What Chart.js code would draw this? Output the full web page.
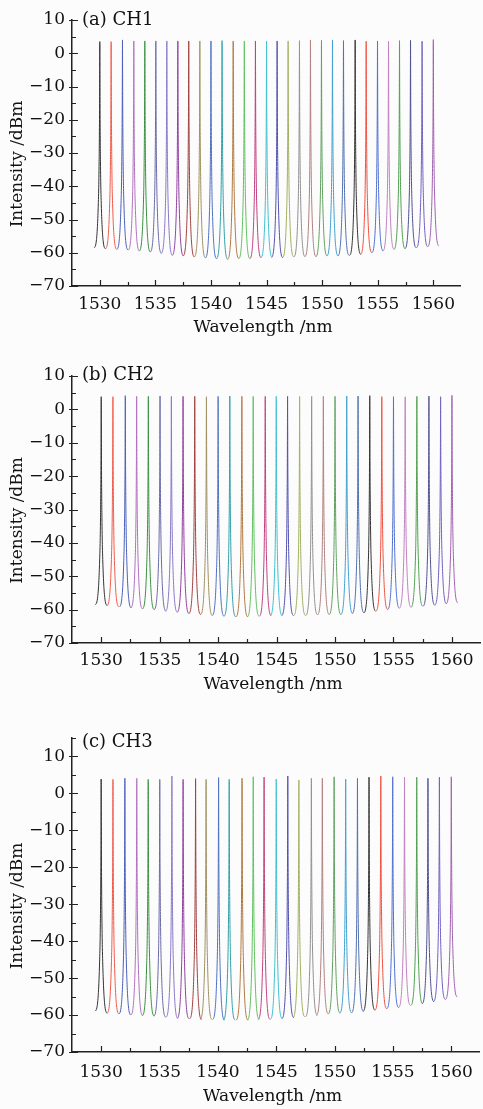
<!DOCTYPE html>
<html>
<head>
<meta charset="utf-8">
<script src="https://cdn.jsdelivr.net/npm/chart.js@4.4.0/dist/chart.umd.min.js"></script>
<style>
  body { margin: 0; background: #fcfcfc; width: 483px; height: 1109px; overflow: hidden; position: relative; }
  canvas { position: absolute; left: 0; }
</style>
</head>
<body>
<canvas id="chA" width="483" height="346" style="top:0px"></canvas>
<canvas id="chB" width="483" height="350" style="top:350px"></canvas>
<canvas id="chC" width="483" height="404" style="top:705px"></canvas>
<script>
// Peak wavelengths (nm)
const peaksA = [1530.0, 1531.02, 1532.04, 1533.06, 1534.05, 1535.04, 1536.03, 1537.02, 1538.0, 1539.0, 1540.0,
  1541.0, 1542.0, 1543.0, 1544.0, 1545.0, 1545.95, 1546.94, 1547.96, 1548.95, 1549.94, 1550.93, 1551.92,
  1552.97, 1553.96, 1554.98, 1555.97, 1556.96, 1557.95, 1558.99, 1560.0];
const peaksB = [1530.0, 1531.0, 1532.06, 1533.03, 1534.03, 1535.03, 1536.0, 1537.0, 1538.0, 1539.0, 1540.0,
  1541.0, 1542.03, 1543.0, 1544.03, 1544.97, 1545.94, 1546.97, 1548.0, 1549.0, 1550.0, 1551.0, 1551.97,
  1552.97, 1554.0, 1555.0, 1556.0, 1557.0, 1558.03, 1559.03, 1560.0];
const peaksC = [1530.0, 1531.01, 1532.03, 1533.05, 1534.03, 1535.02, 1536.06, 1537.02, 1538.09, 1538.99, 1540.06,
  1540.97, 1542.07, 1543.03, 1543.96, 1545.0, 1545.99, 1546.94, 1548.01, 1548.95, 1549.96, 1550.95, 1551.96,
  1552.95, 1553.96, 1554.98, 1555.99, 1557.04, 1558.0, 1558.98, 1560.0];

// Peak intensity (dBm) of each channel
const topsA = [3.5, 3.5, 4.0, 3.7, 3.7, 3.7, 3.7, 3.7, 3.7, 3.7, 3.7, 3.8, 3.7, 3.7, 3.7, 3.7,
  3.7, 3.7, 3.8, 4.0, 3.9, 4.0, 3.8, 4.0, 3.6, 3.7, 3.6, 3.8, 3.9, 3.6, 4.1];
const topsB = [3.8, 3.8, 4.1, 3.9, 3.9, 4.0, 3.9, 3.9, 3.9, 3.8, 3.9, 4.0, 3.9, 3.9, 3.9, 3.9,
  3.9, 3.9, 3.9, 3.9, 3.9, 4.0, 4.0, 4.1, 3.8, 3.8, 3.8, 3.9, 4.0, 3.8, 4.2];
const topsC = [3.9, 3.8, 4.1, 4.1, 3.8, 3.8, 4.7, 3.8, 4.0, 3.8, 4.3, 3.8, 4.1, 4.5, 4.4, 3.9,
  4.7, 3.6, 4.1, 4.1, 4.5, 3.9, 4.1, 4.4, 4.7, 4.5, 4.4, 4.4, 4.1, 4.4, 4.5];

// Noise floor (dBm): left end, the 30 valleys between channels, right end
const valleysA = [-58.5, -58.8, -59.0, -59.2, -59.5, -59.8, -60.2, -60.8, -61.0, -61.3, -61.6, -61.8, -62.0, -61.8,
  -61.8, -61.5, -61.4, -61.5, -61.3, -61.2, -61.2, -61.0, -61.0, -60.8, -60.5, -60.0, -59.5, -59.0, -58.8,
  -58.5, -58.2, -58.0];
const valleysB = [-58.5, -58.8, -59.2, -59.5, -59.8, -60.0, -60.5, -60.8, -61.2, -61.5, -61.8, -62.0, -62.2, -62.2,
  -62.0, -61.8, -61.8, -61.8, -61.8, -61.6, -61.5, -61.5, -61.2, -61.0, -60.5, -60.0, -59.6, -59.3, -59.0,
  -58.7, -58.3, -58.0];
const valleysC = [-58.9, -59.5, -59.7, -60.0, -60.2, -60.3, -60.6, -60.9, -61.0, -61.2, -61.2, -61.4, -61.4, -61.4,
  -61.2, -61.2, -61.0, -60.7, -60.5, -60.1, -59.7, -59.5, -59.4, -59.0, -58.7, -58.3, -58.0, -57.4, -57.0,
  -56.4, -55.8, -55.1];

// Line shape of one channel: offset from the peak (nm)
// and height above the floor as a fraction of the peak height
const shapeOffset = [-0.5, -0.45, -0.4, -0.35, -0.3, -0.25, -0.2, -0.16, -0.13, -0.1, -0.08, -0.06, -0.04, -0.02, -0.01, 0,
  0.01, 0.02, 0.04, 0.06, 0.08, 0.1, 0.13, 0.16, 0.2, 0.25, 0.3, 0.35, 0.4, 0.45, 0.5];
const shapeLevel = [0, 0.003, 0.008, 0.019, 0.039, 0.07, 0.117, 0.17, 0.22, 0.28, 0.34, 0.42, 0.53, 0.7, 0.86, 1,
  0.86, 0.7, 0.53, 0.42, 0.34, 0.28, 0.22, 0.17, 0.117, 0.07, 0.039, 0.019, 0.008, 0.003, 0];

const traceColors = ['#333333', '#f05a4a', '#4a5fb8', '#b070c0', '#3a9040', '#6a6aa8', '#8878c8', '#9040a0',
  '#a04040', '#a09060', '#5070c0', '#30a0a8', '#b07840', '#60c060', '#c04080', '#40c0d0', '#5050b0',
  '#a0b060', '#909090', '#b08080', '#60a060', '#40a0d0', '#5070b0', '#333333', '#f05040', '#5070d0',
  '#c080c0', '#50a050', '#505090', '#7060c0', '#a060b0'];

const serif = '"DejaVu Serif", "Liberation Serif", serif';

function buildTraces(peaks, tops, valleys) {
  return peaks.map((p, i) => {
    const pts = shapeOffset.map((d, k) => {
      const floor = d < 0 ? valleys[i] : valleys[i + 1];
      return { x: p + d, y: floor + shapeLevel[k] * (tops[i] - floor) };
    });
    return {
      data: pts,
      borderColor: traceColors[i],
      borderWidth: 1,
      pointRadius: 0,
      cubicInterpolationMode: 'monotone',
      fill: false
    };
  });
}

// ticks pointing inward, panel label and axis titles
const decor = {
  id: 'decor',
  afterDraw(chart, args, opts) {
    const { ctx, chartArea: a, scales: { x, y } } = chart;
    ctx.save();
    ctx.strokeStyle = '#222';
    ctx.lineWidth = 1.2;
    ctx.beginPath();
    for (let v = -70; v <= opts.yMax; v += 5) {
      const py = Math.round(y.getPixelForValue(v)) + 0.5;
      const major = v % 10 === 0;
      ctx.moveTo(a.left - (major ? 3 : 0), py);
      ctx.lineTo(a.left + (major ? 6 : 4), py);
    }
    for (let v = 1530; v <= 1560; v += 2.5) {
      const px = Math.round(x.getPixelForValue(v)) + 0.5;
      const major = v % 5 === 0;
      ctx.moveTo(px, a.bottom);
      ctx.lineTo(px, a.bottom - (major ? 6 : 4));
    }
    ctx.stroke();

    ctx.fillStyle = '#111';
    ctx.font = '18px ' + serif;
    ctx.textBaseline = 'middle';
    ctx.textAlign = 'left';
    ctx.fillText(opts.label, a.left + 10, a.top + opts.labelDy);
    ctx.font = '17px ' + serif;
    ctx.textAlign = 'center';
    ctx.fillText('Wavelength /nm', (a.left + a.right) / 2 - 3, a.bottom + opts.xTitleDy);
    ctx.translate(18, (a.top + a.bottom) / 2 + 11);
    ctx.rotate(-Math.PI / 2);
    ctx.fillText('Intensity /dBm', 0, 0);
    ctx.restore();
  }
};

function makeChart(id, traces, p) {
  const ctx = document.getElementById(id).getContext('2d');
  return new Chart(ctx, {
    type: 'line',
    data: { datasets: traces },
    plugins: [decor],
    options: {
      responsive: false,
      animation: false,
      layout: { padding: { left: 0, right: p.padRight, top: p.padTop, bottom: 0 } },
      plugins: {
        legend: { display: false },
        tooltip: { enabled: false },
        decor: { label: p.label, labelDy: p.labelDy, xTitleDy: p.xTitleDy, yMax: p.yMax }
      },
      scales: {
        x: {
          type: 'linear',
          min: 1527.5,
          max: 1562.4,
          grid: { display: false, drawTicks: false },
          border: { display: true, color: '#222', width: 1.5 },
          ticks: {
            stepSize: 5,
            includeBounds: false,
            padding: p.xTickPad,
            color: '#111',
            maxRotation: 0,
            font: { family: serif, size: 17 },
            callback: v => String(v)
          },
          afterFit(s) { s.height = p.xHeight; }
        },
        y: {
          type: 'linear',
          min: -70,
          max: p.yMax,
          grid: { display: false, drawTicks: false },
          border: { display: true, color: '#222', width: 1.5 },
          ticks: {
            stepSize: 10,
            includeBounds: false,
            padding: 7,
            color: '#111',
            font: { family: serif, size: 17 },
            callback: v => (v < 0 ? '\u2212' + Math.abs(v) : String(v))
          },
          afterFit(s) { s.width = 72; }
        }
      }
    }
  });
}

makeChart('chA', buildTraces(peaksA, topsA, valleysA),
  { label: '(a) CH1', padTop: 20, padRight: 23, xHeight: 60, xTickPad: 8, xTitleDy: 42, labelDy: 0, yMax: 10 });
makeChart('chB', buildTraces(peaksB, topsB, valleysB),
  { label: '(b) CH2', padTop: 26, padRight: 3, xHeight: 57, xTickPad: 7, xTitleDy: 42, labelDy: -1, yMax: 10 });
makeChart('chC', buildTraces(peaksC, topsC, valleysC),
  { label: '(c) CH3', padTop: 33, padRight: 1, xHeight: 57, xTickPad: 10, xTitleDy: 45, labelDy: 4, yMax: 15 });
</script>
</body>
</html>
